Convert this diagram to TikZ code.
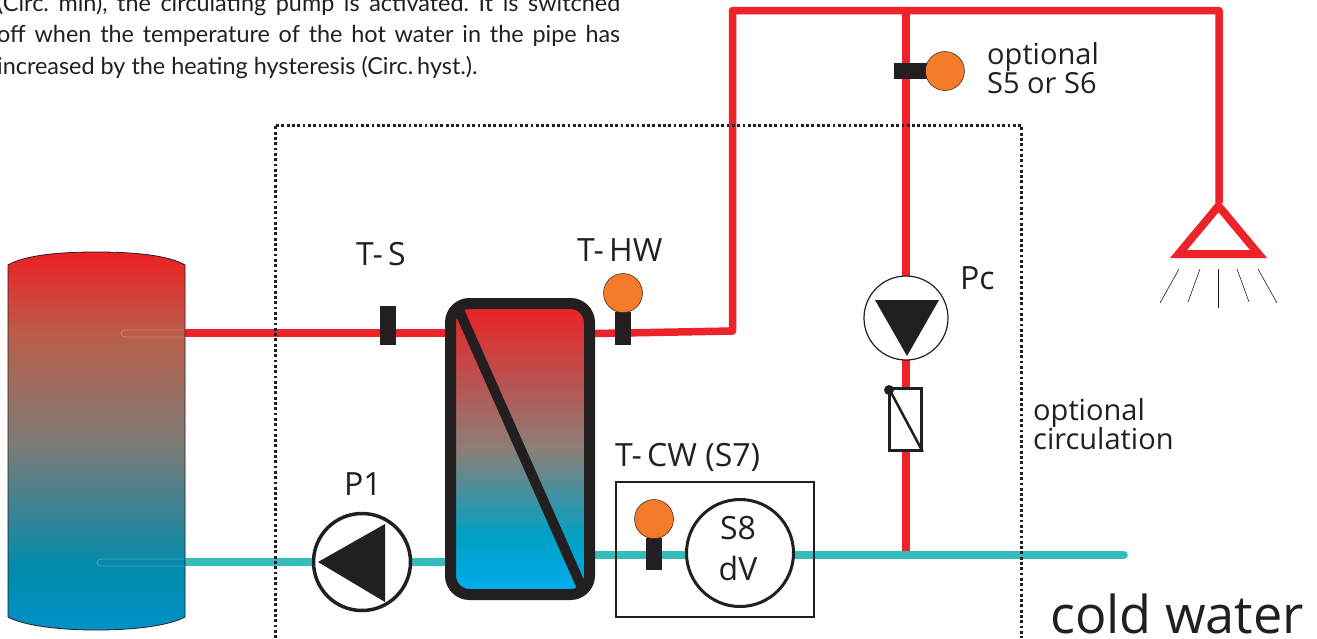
\documentclass[tikz,border=0pt]{standalone}
\usepackage{fontspec}
\setmainfont{Open Sans}
\newfontfamily\parafont{Lato}
\usetikzlibrary{positioning,backgrounds}

\definecolor{hotred}{HTML}{EE2229}
\definecolor{coldteal}{HTML}{35BDBB}
\definecolor{ink}{HTML}{231F20}
\definecolor{ball}{HTML}{F47B2A}
\definecolor{tankA}{HTML}{0091C6}
\definecolor{tankB}{HTML}{008BAC}
\definecolor{tankC}{HTML}{7F7B75}
\definecolor{tankD}{HTML}{B95E4A}
\definecolor{tankE}{HTML}{ED2024}
\definecolor{hxA}{HTML}{00AEEF}
\definecolor{hxB}{HTML}{00A0C4}
\definecolor{hxC}{HTML}{8C7F78}
\definecolor{hxD}{HTML}{ED2024}

\pgfdeclareverticalshading{tankgrad}{100bp}{color(0bp)=(tankA);color(25bp)=(tankA);color(33bp)=(tankB);color(50bp)=(tankC);color(64bp)=(tankD);color(75bp)=(tankE);color(100bp)=(tankE)}
\pgfdeclareverticalshading{hxgrad}{100bp}{color(0bp)=(hxA);color(25bp)=(hxA);color(35bp)=(hxB);color(50bp)=(hxC);color(75bp)=(hxD);color(100bp)=(hxD)}

\begin{document}
\begin{tikzpicture}[x=1pt,y=-1pt,
		hot/.style={draw=hotred,line width=7.5pt,line join=round},
		cold/.style={draw=coldteal,line width=7.5pt},
		stem/.style={rectangle,fill=ink,inner sep=0pt,minimum width=16pt,minimum height=39pt},
		sball/.style={circle,fill=ball,draw=ink,line width=.5pt,inner sep=0pt,minimum size=39pt},
		pumpc/.style={circle,fill=white,draw=ink,inner sep=0pt},
		txt/.style={anchor=base west,inner sep=0pt,text=ink,font=\fontsize{32}{32}\selectfont},
		small/.style={txt,font=\fontsize{29}{29}\selectfont}]
		\useasboundingbox (0,0) rectangle (1317,638);

		% storage tank
		\shade[shading=tankgrad,draw=ink,line width=.8pt] (8,265) .. controls (25,255) and (60,252) .. (96.5,252) .. controls (133,252) and (168,255) .. (185,265) -- (185,617) .. controls (168,626) and (133,630) .. (96.5,630) .. controls (60,630) and (25,626) .. (8,617) -- cycle;
		\draw[white,opacity=.25,line width=.7pt,rounded corners=3.5pt] (185,330) -- (121,330) -- (121,337) -- (185,337);
		\draw[white,opacity=.25,line width=.7pt,rounded corners=3.5pt] (185,559) -- (97,559) -- (97,566) -- (185,566);
		\coordinate (tankhot) at (185,333);
		\coordinate (tankcold) at (185,562);

		% heat exchanger
		\node[rectangle,draw=ink,line width=11pt,rounded corners=19pt,shade,shading=hxgrad,inner sep=0pt,minimum width=139pt,minimum height=291pt] (hx) at (520,449) {};
		\coordinate (hxa) at (458,308);
		\coordinate (hxb) at (583,590);
		\draw[ink,line width=10pt] (hxa) -- (hxb);
		\coordinate (hxhot) at (595,333.5);
		\coordinate (hxcold) at (595,555);

		% sensors
		\node[stem] (ts) at (388,325.5) {};
		\node[stem,minimum height=33pt] (thw) at (623,328.5) {};
		\node[sball,above=-1pt of thw] (thwball) {};
		\node[stem,minimum height=32pt] (tcw) at (654,554) {};
		\node[sball,above=-1pt of tcw] (tcwball) {};
		\node[stem,minimum width=36pt,minimum height=16pt] (sopt) at (912,71) {};
		\node[sball,right=-5pt of sopt,minimum width=39pt] (soptball) {};

		% pumps, valve, flow sensor
		\node[pumpc,line width=3.5pt,minimum size=97pt] (p1) at (362,562) {};
		\fill[ink] (318,562) -- (385,524) -- (385,602) -- cycle;
		\node[pumpc,line width=1.2pt,minimum size=84pt] (pc) at (906,318) {};
		\fill[ink] (875,300) -- (939,300) -- (907,356) -- cycle;
		\node[rectangle,fill=white,draw=ink,line width=2.5pt,inner sep=0pt,minimum width=32pt,minimum height=62pt] (valve) at (905.5,419.5) {};
		\draw[ink,line width=2.5pt] (valve.north west) -- (valve.south east);
		\node[circle,fill=ink,inner sep=0pt,minimum size=10pt] (valvedot) at (889,390) {};
		\node[pumpc,line width=3pt,minimum size=107pt] (s8) at (740,553) {};
		\node[rectangle,draw=ink,line width=2pt,inner sep=0pt,minimum width=198pt,minimum height=135pt] (cwbox) at (714.5,549) {};

		% shower
		\coordinate (na) at (1218.5,206);
		\coordinate (nb) at (1178.5,254);
		\coordinate (nc) at (1258.5,254);
		\draw[hotred,line width=8pt,miter limit=10] (na) -- (nb) -- (nc) -- cycle;
		\foreach \xa/\ya/\xb/\yb in {1179/269/1160/303,1200/269/1188/302,1218/269/1218/308,1237/269/1249/302,1258/269/1277/303}
			\draw[ink,line width=.6pt] (\xa,\ya) -- (\xb,\yb);

		% pipes
		\coordinate (hc1) at (732.5,331);
		\coordinate (hc2) at (732.5,10.5);
		\coordinate (hc3) at (1219,10.5);
		\coordinate (hc4) at (1219,203);
		\coordinate (jtop) at (906,10.5);
		\coordinate (jbot) at (906,555);
		\coordinate (coldend) at (1124,555);
		\begin{pgfonlayer}{background}
			\draw[hot] (tankhot) -- (hx.west |- tankhot);
			\draw[hot] (hxhot) -- (hc1) -- (hc2) -- (hc3) -- (hc4);
			\draw[hot] (jtop) -- (jbot);
			\draw[cold] (tankcold) -- (hx.west |- tankcold);
			\draw[cold] (hxcold) -- (jbot);
			\draw[cold,line cap=round] (jbot) -- (coldend);
		\end{pgfonlayer}

		% dotted border
		\coordinate (da) at (275,638);
		\coordinate (db) at (275,125);
		\coordinate (dc) at (1021,125);
		\coordinate (dd) at (1021,638);
		\draw[ink,line width=3pt,dash pattern=on 2.8pt off 2.5pt] (da) -- (db) -- (dc) -- (dd);

		% labels
		\node[txt] (lts) at (356,265) {T-\,S};
		\node[txt] (lthw) at (577,261) {T-\,HW};
		\node[txt] (ltcw) at (615,466) {T-\,CW (S7)};
		\node[txt] (lp1) at (344,495) {P1};
		\node[txt] (lpc) at (960,289) {Pc};
		\node[txt,anchor=base] (ls8) at (738,539) {S8};
		\node[txt,anchor=base] (ldv) at (738,580) {dV};
		\node[small] (lopt) at (987,64) {optional};
		\node[small] (ls5) at (987,93) {S5 or S6};
		\node[small] (lopc) at (1033,420) {optional};
		\node[small] (lcirc) at (1033,449) {circulation};
		\node[txt,font=\fontsize{52.2}{52.2}\selectfont] (lcold) at (1050,633) {cold water};

		% text
		\node[anchor=base west,inner sep=0pt,text=ink,align=left,font=\parafont\fontsize{23.4}{31.5}\selectfont\frenchspacing] (para) at (-3,74) {\makebox[623pt][s]{(Circ. min), the circulating pump is activated. It is switched}\\\makebox[623pt][s]{off when the temperature of the hot water in the pipe has}\\increased by the heating hysteresis (Circ.\,hyst.).};
	\end{tikzpicture}
\end{document}
